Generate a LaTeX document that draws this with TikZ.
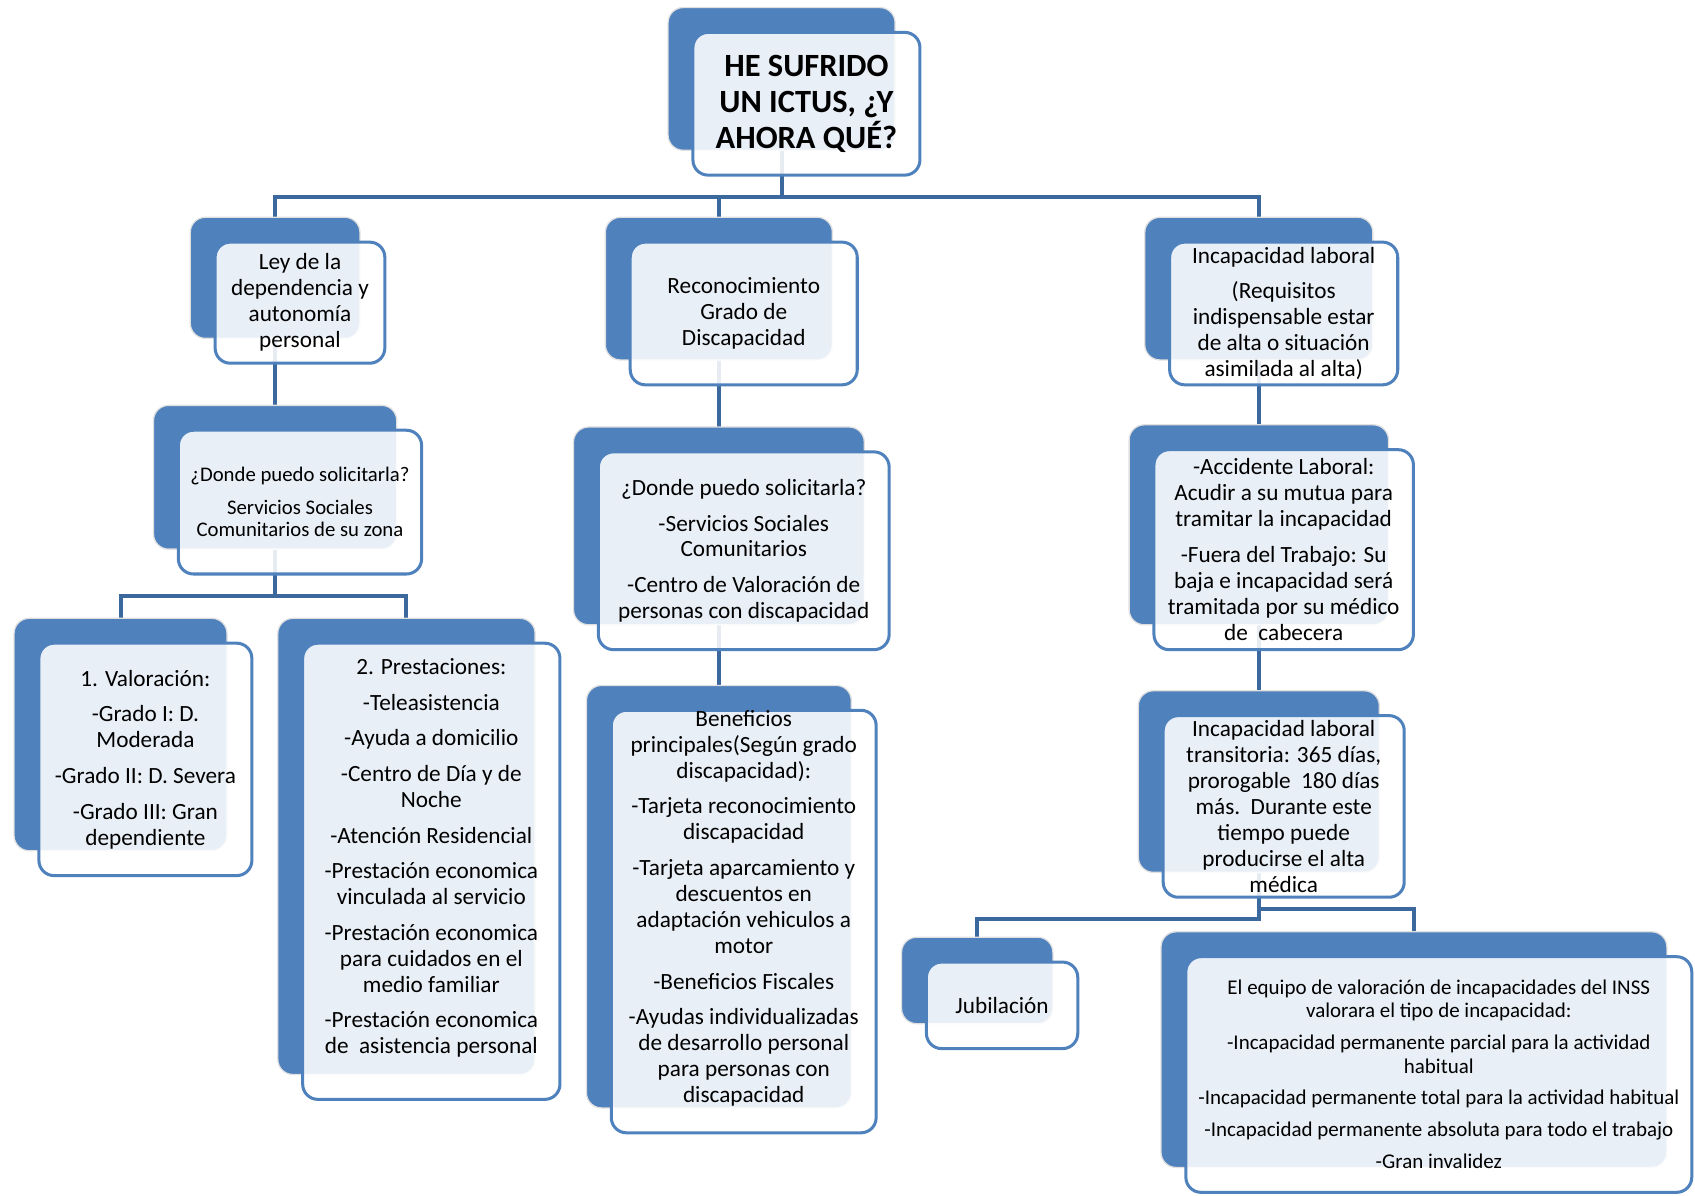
\documentclass[tikz,border=0pt]{standalone}
\usepackage{fontspec}
\setmainfont{Carlito}
\usepackage{tikz}
\usetikzlibrary{shadows,backgrounds}

\definecolor{backblue}{HTML}{4F81BD}
\definecolor{lineblue}{HTML}{3B689D}

\tikzset{
  box/.style = {shape = rectangle, rounded corners = 7pt, draw = backblue, line width = 1.4pt,
    fill = white, fill opacity = 0.88, text opacity = 1, align = center, inner sep = 0pt,
    font = \fontsize{10.75pt}{12pt}\selectfont,
    general shadow = {shadow xshift = -11.5pt, shadow yshift = 11.5pt, fill = backblue,
      fill opacity = 1, draw = black!12, draw opacity = 1, line width = 0.6pt}},
  title/.style = {font = \fontsize{15pt}{16.75pt}\selectfont\bfseries},
  small/.style = {font = \fontsize{9.6pt}{10.5pt}\selectfont},
  tiny/.style = {font = \fontsize{9.7pt}{10.75pt}\selectfont},
  conn/.style = {draw = lineblue, line width = 1.85pt}
}

\begin{document}
\begin{tikzpicture}[x = 0.5pt, y = -0.5pt]
\useasboundingbox (0,0) rectangle (1568,1106);

\node[box, title, minimum width = 105pt, minimum height = 66pt] (1) at (746,96) {HE SUFRIDO\\UN ICTUS, ¿Y\\AHORA QUÉ?};

% ley de dependencia
\node[box, minimum width = 78.5pt, minimum height = 56pt] (2) at (277.5,280) {Ley de la\\dependencia y\\autonomía\\personal};
\node[box, small, minimum width = 112.5pt, minimum height = 66.5pt] (5) at (277.5,464.5) {¿Donde puedo solicitarla?\\[4.5pt]Servicios Sociales\\Comunitarios de su zona};
\node[box, minimum width = 98.5pt, minimum height = 107.5pt] (8) at (134.5,702.5) {1. Valoración:\\[4.5pt]-Grado I: D.\\Moderada\\[4.5pt]-Grado II: D. Severa\\[4.5pt]-Grado III: Gran\\dependiente};
\node[box, minimum width = 119pt, minimum height = 211pt] (9) at (399,806) {2. Prestaciones:\\[4.5pt]-Teleasistencia\\[4.5pt]-Ayuda a domicilio\\[4.5pt]-Centro de Día y de\\Noche\\[4.5pt]-Atención Residencial\\[4.5pt]-Prestación economica\\vinculada al servicio\\[4.5pt]-Prestación economica\\para cuidados en el\\medio familiar\\[4.5pt]-Prestación economica\\de\ \ asistencia personal\\[2pt]\mbox{}};

% discapacidad
\node[box, minimum width = 105pt, minimum height = 66pt] (3) at (688,290) {Reconocimiento\\Grado de\\Discapacidad};
\node[box, minimum width = 134.5pt, minimum height = 91.5pt] (6) at (688,509.5) {¿Donde puedo solicitarla?\\[4.5pt]-Servicios Sociales\\Comunitarios\\[4.5pt]-Centro de Valoración de\\personas con discapacidad};
\node[box, minimum width = 122.5pt, minimum height = 192.5pt] (10) at (688,852.5) {Beneficios\\principales(Según grado\\discapacidad):\\[4.5pt]-Tarjeta reconocimiento\\discapacidad\\[4.5pt]-Tarjeta aparcamiento y\\descuentos en\\adaptación vehiculos a\\motor\\[4.5pt]-Beneficios Fiscales\\[4.5pt]-Ayudas individualizadas\\de desarrollo personal\\para personas con\\discapacidad\\[2pt]\mbox{}};

% incapacidad laboral
\node[box, minimum width = 105.5pt, minimum height = 66pt] (4) at (1187.5,290) {Incapacidad laboral\\[4.5pt](Requisitos\\indispensable estar\\de alta o situación\\asimilada al alta)};
\node[box, minimum width = 120pt, minimum height = 92.5pt] (7) at (1187.5,508.5) {-Accidente Laboral:\\Acudir a su mutua para\\tramitar la incapacidad\\[4.5pt]-Fuera del Trabajo: Su\\baja e incapacidad será\\tramitada por su médico\\de\ \ cabecera};
\node[box, minimum width = 111.5pt, minimum height = 84pt] (11) at (1187.5,746) {Incapacidad laboral\\transitoria: 365 días,\\prorogable\ \ 180 días\\más.\ \ Durante este\\tiempo puede\\producirse el alta\\médica};
\node[box, minimum width = 70pt, minimum height = 40pt] (12) at (927,930) {Jubilación};
\node[box, tiny, minimum width = 234pt, minimum height = 109pt] (13) at (1331,994) {El equipo de valoración de incapacidades del INSS\\valorara el tipo de incapacidad:\\[4pt]-Incapacidad permanente parcial para la actividad\\habitual\\[4pt]-Incapacidad permanente total para la actividad habitual\\[4pt]-Incapacidad permanente absoluta para todo el trabajo\\[4pt]-Gran invalidez};

\foreach \n in {1,...,13}
  \coordinate (b\n) at ([shift = {(-11.5pt,11.5pt)}]\n.center);

\begin{scope}[on background layer]
\draw[conn] (b1) -- ++(0,109) coordinate (t1) -| (b2);
\draw[conn] (t1) -| (b3);
\draw[conn] (t1) -| (b4);
\draw[conn] (b2) -- (b5);
\draw[conn] (b5) -- ++(0,109.5) coordinate (t5) -| (b8);
\draw[conn] (t5) -| (b9);
\draw[conn] (b3) -- (b6);
\draw[conn] (b6) -- (b10);
\draw[conn] (b4) -- (b7);
\draw[conn] (b7) -- (b11);
\draw[conn] (b11) -- ++(0,127) -| (b12);
\draw[conn] (b11) -- ++(0,118) -| (b13);
\end{scope}
\end{tikzpicture}
\end{document}
